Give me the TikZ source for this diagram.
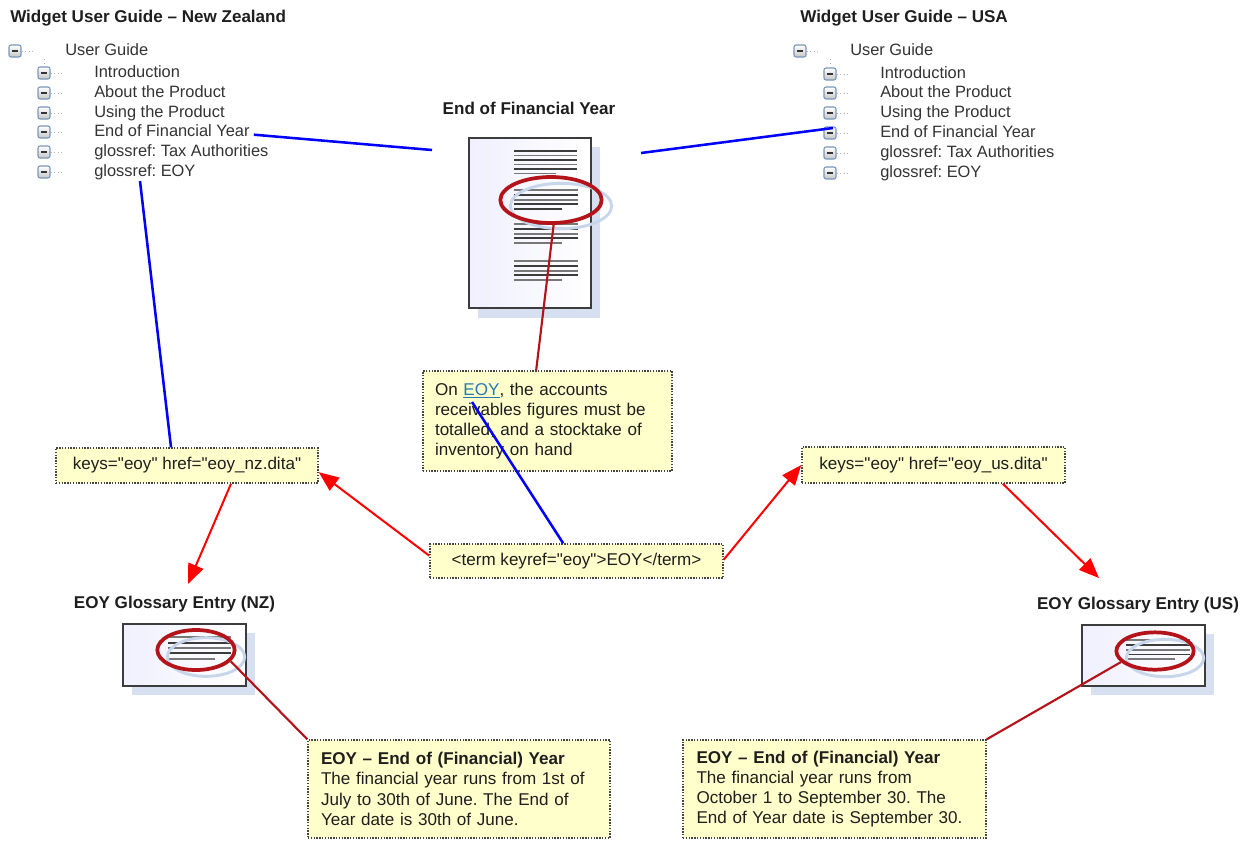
\documentclass[tikz,border=0pt]{standalone}
\usepackage{fontspec}
\setmainfont{Liberation Sans}[Ligatures=TeXOff]
\usetikzlibrary{arrows.meta,shapes.geometric}
\frenchspacing
\definecolor{boxfill}{RGB}{255,255,204}
\definecolor{boxline}{RGB}{70,70,70}
\definecolor{dred}{RGB}{180,20,25}
\definecolor{ared}{RGB}{255,0,0}
\definecolor{lblue}{RGB}{0,0,255}
\definecolor{shadowblue}{RGB}{214,224,240}
\definecolor{faintblue}{RGB}{200,214,236}
\definecolor{docdark}{RGB}{60,60,60}
\definecolor{docgray}{RGB}{120,120,120}
\definecolor{txt}{RGB}{30,30,30}
\definecolor{linkblue}{RGB}{40,120,180}
\definecolor{iconborder}{RGB}{120,150,185}
\begin{document}
\begin{tikzpicture}[x=0.75pt,y=-0.75pt,
 yellowbox/.style={draw=boxline, densely dotted, line width=1.1pt, fill=boxfill, inner sep=0pt, text=txt, font=\fontsize{12.8}{15.2}\selectfont},
 titletext/.style={font=\bfseries\fontsize{12.8}{15}\selectfont, text=txt, inner sep=0pt},
 treetext/.style={anchor=west, inner sep=0pt, text height=9pt, text depth=2.5pt, font=\fontsize{12.3}{14}\selectfont, text=black!80},
 treeicon/.style={draw=iconborder, line width=0.8pt, rounded corners=1.5pt, top color=white, bottom color=gray!45, minimum size=9pt, inner sep=0pt, path picture={\draw[line width=1.3pt, black!80] ([xshift=-2.2pt]path picture bounding box.center) -- ([xshift=2.2pt]path picture bounding box.center);}},
 treedot/.style={draw=gray!60, dotted, line width=0.7pt},
 blueline/.style={draw=lblue, line width=1.9pt},
 redarrow/.style={draw=ared, line width=1.5pt, -{Triangle[length=15pt,width=12pt]}},
 darkred/.style={draw=dred, line width=1.6pt},
 docbox/.style={draw=docdark, line width=1.2pt, left color=blue!6, right color=white, inner sep=0pt},
 docshadow/.style={fill=shadowblue},
 redell/.style={ellipse, draw=dred, line width=2.8pt, inner sep=0pt},
 faintell/.style={ellipse, draw=faintblue, line width=2.2pt, inner sep=0pt},
 docl/.style={line width=1.4pt}
]
\useasboundingbox (0,0) rectangle (1248,840);

% ---------- titles
\node[titletext, anchor=west] (nzhead) at (10,18) {Widget User Guide – New Zealand};
\node[titletext, anchor=west] (ushead) at (800,18) {Widget User Guide – USA};

% ---------- NZ tree
\node[treeicon] (nzroot) at (15,51) {};
\draw[treedot] (nzroot.east) -- ++(14,0);
\node[treetext] (nzUG) at (65,51) {User Guide};
\draw[treedot] (44,59) -- (44,66);
\foreach \n/\y/\t in {1/73/Introduction,2/93/About the Product,3/113/Using the Product,4/132/End of Financial Year,5/152/glossref: Tax Authorities,6/172/glossref: EOY}{
  \node[treeicon] (nzi\n) at (44,\y) {};
  \draw[treedot] (nzi\n.east) -- ++(11,0);
  \node[treetext] (nz\n) at (94,\y) {\t};
}

% ---------- US tree
\node[treeicon] (usroot) at (800,51) {};
\draw[treedot] (usroot.east) -- ++(14,0);
\node[treetext] (usUG) at (850,51) {User Guide};
\draw[treedot] (830,59) -- (830,66);
\foreach \n/\y/\t in {1/74/Introduction,2/93/About the Product,3/113/Using the Product,4/133/End of Financial Year,5/153/glossref: Tax Authorities,6/173/glossref: EOY}{
  \node[treeicon] (usi\n) at (830,\y) {};
  \draw[treedot] (usi\n.east) -- ++(11,0);
  \node[treetext] (us\n) at (880,\y) {\t};
}

% ---------- main document
\node[titletext] (doctitle) at (529,108) {End of Financial Year};
\fill[docshadow] (478,147) rectangle (600,318);
\node[docbox, minimum width=91.5pt, minimum height=127.5pt] (doc) at (530,223) {};
\foreach \y/\e/\c in {151/577/docdark,155.5/577/docgray,160/577/docdark,164.5/577/docgray,169/577/docdark,173.5/556/docgray,
  190/578/docgray,194.8/578/docdark,199.6/578/docgray,204.4/578/docdark,209.2/562/docdark,
  224/578/docgray,228.8/578/docdark,233.6/578/docgray,238.4/578/docdark,243.2/562/docgray,
  261/578/docgray,265.8/578/docdark,270.6/578/docgray,275.4/578/docdark,280.2/562/docgray}{
  \draw[docl, draw=\c] (514,\y) -- (\e,\y);
}
\node[faintell, minimum width=76pt, minimum height=34pt] (docfaint) at (561,206) {};
\node[redell, minimum width=76pt, minimum height=34.5pt] (docell) at (551,200) {};
\coordinate (docL) at (432,150);
\coordinate (docR) at (641,153);

% ---------- yellow boxes
\node[yellowbox, minimum width=186.75pt, minimum height=75pt, text width=168.75pt, align=left] (mainbox) at (547.5,421)
  {On \textcolor{linkblue}{\underline{EOY}}, the accounts\\receivables figures must be\\totalled, and a stocktake of\\inventory on hand};
\coordinate (eoylink) at (472,402);
\node[yellowbox, minimum width=219.75pt, minimum height=25.5pt] (term) at (576.5,561) {<term keyref="eoy">EOY</term>};
\node[yellowbox, minimum width=196.5pt, minimum height=26.25pt] (nzkeys) at (187,465.5) {keys="eoy" href="eoy\_nz.dita"};
\node[yellowbox, minimum width=197.25pt, minimum height=27pt] (uskeys) at (933.5,465) {keys="eoy" href="eoy\_us.dita"};
\node[yellowbox, minimum width=226.5pt, minimum height=73.5pt, text width=207pt, align=left] (nzdef) at (459,789)
  {\textbf{EOY – End of (Financial) Year}\\The financial year runs from 1st of\\July to 30th of June. The End of\\Year date is 30th of June.};
\node[yellowbox, minimum width=227.25pt, minimum height=73.5pt, text width=207pt, align=left] (usdef) at (834.5,789)
  {\textbf{EOY – End of (Financial) Year}\\The financial year runs from\\October 1 to September 30. The\\End of Year date is September 30.};

% ---------- NZ glossary doc
\node[titletext] (nzgtitle) at (174.5,604) {EOY Glossary Entry (NZ)};
\fill[docshadow] (132,633) rectangle (255,695);
\node[docbox, minimum width=92.25pt, minimum height=46.5pt] (nzdoc) at (184.5,655) {};
\foreach \y/\e/\c in {637/231/docgray,643/231/docdark,648/231/docgray,653/231/docdark,659/215/docgray}{
  \draw[docl, draw=\c] (168,\y) -- (\e,\y);
}
\node[faintell, minimum width=58pt, minimum height=29pt] at (206,657) {};
\node[redell, minimum width=58pt, minimum height=30pt] (nzell) at (196,650) {};

% ---------- US glossary doc
\node[titletext] (usgtitle) at (1138,605) {EOY Glossary Entry (US)};
\fill[docshadow] (1091,634) rectangle (1214,695);
\node[docbox, minimum width=92.25pt, minimum height=45.75pt] (usdoc) at (1143.5,655.5) {};
\foreach \y/\e/\c in {640/1190/docgray,645/1190/docdark,650/1190/docgray,654.5/1190/docdark,659/1175/docgray}{
  \draw[docl, draw=\c] (1126,\y) -- (\e,\y);
}
\node[faintell, minimum width=58pt, minimum height=28pt] at (1165,658) {};
\node[redell, minimum width=58pt, minimum height=28pt] (usell) at (1155,651) {};

% ---------- coordinates for free ends
\coordinate (nzgloss) at (140,181);
\coordinate (usend) at (833,128);
\coordinate (nzarrowend) at (188,584);
\coordinate (usarrowend) at (1099,578);

% ---------- blue connectors
\draw[blueline] ([xshift=3pt,yshift=-2pt]nz4.east) -- (docL);
\draw[blueline] (docR) -- (usend);
\draw[blueline] (nzgloss) -- ([xshift=-12pt]nzkeys.north);
\draw[blueline] (eoylink) -- ([xshift=-10pt]term.north);

% ---------- dark red connectors
\draw[darkred] (docell.-84) -- ([xshift=-8.5pt]mainbox.north);
\draw[darkred] (nzell.-18) -- (nzdef.north west);
\draw[darkred] (usell.198) -- (usdef.north east);

% ---------- red arrows
\draw[redarrow] ([yshift=4pt]term.west) -- ([yshift=-5pt]nzkeys.east);
\draw[redarrow] ([yshift=1pt]term.east) -- (uskeys.west);
\draw[redarrow] ([xshift=33pt]nzkeys.south) -- (nzarrowend);
\draw[redarrow] ([xshift=52pt]uskeys.south) -- (usarrowend);
\end{tikzpicture}
\end{document}
